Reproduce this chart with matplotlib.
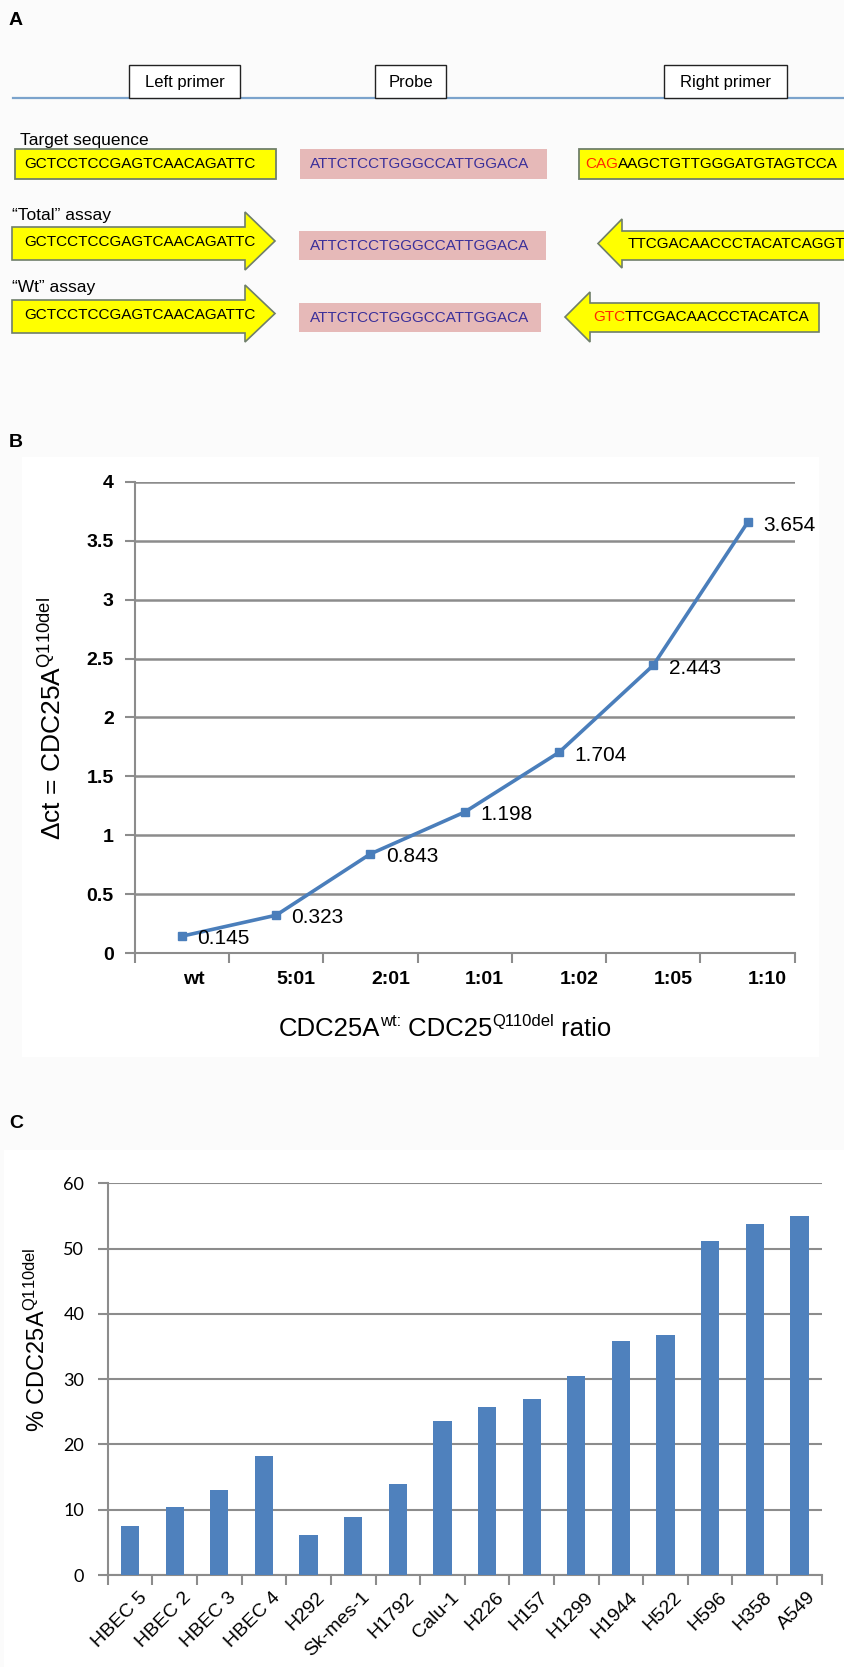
import matplotlib
matplotlib.use("Agg")
import matplotlib.pyplot as plt
import matplotlib.patches as mpatches
from matplotlib.transforms import ScaledTranslation

# ---------------- data ----------------
ratio_labels = ["wt", "5:01", "2:01", "1:01", "1:02", "1:05", "1:10"]
delta_ct = [0.145, 0.323, 0.843, 1.198, 1.704, 2.443, 3.654]
b_yticks = [0, 0.5, 1, 1.5, 2, 2.5, 3, 3.5, 4]
b_yticklabels = ["0", "0.5", "1", "1.5", "2", "2.5", "3", "3.5", "4"]

cell_lines = ["HBEC 5", "HBEC 2", "HBEC 3", "HBEC 4", "H292", "Sk-mes-1", "H1792",
              "Calu-1", "H226", "H157", "H1299", "H1944", "H522", "H596", "H358", "A549"]
pct_mut = [7.5, 10.4, 13.0, 18.3, 6.1, 8.9, 13.9, 23.6, 25.8, 27.0, 30.5, 35.8,
           36.8, 51.2, 53.8, 55.0]
c_yticks = [0, 10, 20, 30, 40, 50, 60]

target_left = "GCTCCTCCGAGTCAACAGATTC"
probe_seq = "ATTCTCCTGGGCCATTGGACA"
target_right_mut = "CAG"
target_right_rest = "AAGCTGTTGGGATGTAGTCCA"
total_right = "TTCGACAACCCTACATCAGGT"
wt_right_mut = "GTC"
wt_right_rest = "TTCGACAACCCTACATCA"

# ---------------- style ----------------
plt.rcParams['font.family'] = ['Liberation Sans', 'DejaVu Sans']
plt.rcParams['mathtext.fontset'] = 'custom'
plt.rcParams['mathtext.rm'] = 'Liberation Sans'
plt.rcParams['mathtext.it'] = 'Liberation Sans'
plt.rcParams['mathtext.bf'] = 'Liberation Sans:bold'
plt.rcParams['mathtext.default'] = 'regular'

W, H = 845, 1667
DPI = 100
fig = plt.figure(figsize=(W / DPI, H / DPI), dpi=DPI, facecolor='#fbfbfb')

# overlay axes in pixel coordinates (y downward)
ov = fig.add_axes([0, 0, 1, 1], zorder=0)
ov.set_xlim(0, W)
ov.set_ylim(H, 0)
ov.axis('off')

YEL = '#ffff00'
YEL_EDGE = '#6f7f6a'
PINK = '#e6b9b8'
SEQ_BLUE = '#3a2f9a'

# white chart backgrounds
ov.add_patch(mpatches.Rectangle((22, 457), 797, 600, facecolor='white', edgecolor='none', zorder=0))
ov.add_patch(mpatches.Rectangle((4, 1150), 841, 517, facecolor='white', edgecolor='none', zorder=0))

# panel letters
for letter, (lx, ly) in zip("ABC", [(9, 20), (9, 442), (9, 1123)]):
    ov.text(lx, ly, letter, fontsize=14, fontweight='bold', ha='left', va='center')

# ---- panel A ----
ov.plot([13, 845], [98, 98], color='#7ba3cc', lw=1.6, zorder=1)
for (x0, x1, lab) in [(129, 240, "Left primer"), (375.5, 446, "Probe"), (664, 787, "Right primer")]:
    ov.add_patch(mpatches.Rectangle((x0, 65), x1 - x0, 33, facecolor='white',
                                    edgecolor='#222222', lw=1.0, zorder=2))
    ov.text((x0 + x1) / 2, 82, lab, fontsize=12, ha='center', va='center', zorder=3)

seq_fs = 11
# row labels
ov.text(20, 140, "Target sequence", fontsize=12.5, ha='left', va='center')
ov.text(12, 215, "\u201cTotal\u201d assay", fontsize=12.5, ha='left', va='center')
ov.text(12, 287, "\u201cWt\u201d assay", fontsize=12.5, ha='left', va='center')

# target sequence row
ov.add_patch(mpatches.Rectangle((15, 149), 261, 30, facecolor=YEL, edgecolor=YEL_EDGE, lw=1.3, zorder=2))
ov.text(24, 164, target_left, fontsize=seq_fs, ha='left', va='center', zorder=3)
ov.add_patch(mpatches.Rectangle((300, 149), 247, 30, facecolor=PINK, edgecolor='none', zorder=2))
ov.text(310, 164, probe_seq, fontsize=seq_fs, color=SEQ_BLUE, ha='left', va='center', zorder=3)
ov.add_patch(mpatches.Rectangle((579, 149), 280, 30, facecolor=YEL, edgecolor=YEL_EDGE, lw=1.3, zorder=2))
t1 = ov.text(585, 164, target_right_mut, fontsize=seq_fs, color='#ff2a00', ha='left', va='center', zorder=3)
ov.annotate(target_right_rest, xy=(1, 0), xycoords=t1, ha='left', va='bottom',
            fontsize=seq_fs, zorder=3)


def right_arrow(x0, xh, tip, yb1, yb2, yh1, yh2):
    yc = (yh1 + yh2) / 2
    pts = [(x0, yb1), (xh, yb1), (xh, yh1), (tip, yc), (xh, yh2), (xh, yb2), (x0, yb2)]
    ov.add_patch(mpatches.Polygon(pts, closed=True, facecolor=YEL, edgecolor=YEL_EDGE, lw=1.2, zorder=2))


def left_arrow(x1, xh, tip, yb1, yb2, yh1, yh2):
    yc = (yh1 + yh2) / 2
    pts = [(x1, yb1), (xh, yb1), (xh, yh1), (tip, yc), (xh, yh2), (xh, yb2), (x1, yb2)]
    ov.add_patch(mpatches.Polygon(pts, closed=True, facecolor=YEL, edgecolor=YEL_EDGE, lw=1.2, zorder=2))


# Total assay row
right_arrow(12, 245, 275, 227, 260, 212, 270)
ov.text(24, 242, target_left, fontsize=seq_fs, ha='left', va='center', zorder=3)
ov.add_patch(mpatches.Rectangle((299, 231), 247, 28.5, facecolor=PINK, edgecolor='none', zorder=2))
ov.text(310, 246, probe_seq, fontsize=seq_fs, color=SEQ_BLUE, ha='left', va='center', zorder=3)
left_arrow(860, 622, 598, 231, 260, 219, 268)
ov.text(628, 244, total_right, fontsize=seq_fs, ha='left', va='center', zorder=3)

# Wt assay row
right_arrow(12, 245, 275, 300, 333, 285, 342)
ov.text(24, 315, target_left, fontsize=seq_fs, ha='left', va='center', zorder=3)
ov.add_patch(mpatches.Rectangle((299, 303), 242.5, 29, facecolor=PINK, edgecolor='none', zorder=2))
ov.text(310, 318, probe_seq, fontsize=seq_fs, color=SEQ_BLUE, ha='left', va='center', zorder=3)
left_arrow(819, 590, 565, 303, 332, 292, 342)
t2 = ov.text(593, 317, wt_right_mut, fontsize=seq_fs, color='#ff2a00', ha='left', va='center', zorder=3)
ov.annotate(wt_right_rest, xy=(1, 0), xycoords=t2, ha='left', va='bottom',
            fontsize=seq_fs, zorder=3)


def frac_rect(left, top, right, bottom):
    return [left / W, 1 - bottom / H, (right - left) / W, (bottom - top) / H]


GRID = '#8c8c8c'

# ---- panel B ----
axb = fig.add_axes(frac_rect(134.7, 481.7, 794.7, 953.3), zorder=2)
axb.set_facecolor('none')
xb = [i + 0.5 for i in range(len(ratio_labels))]
axb.set_xlim(0, len(ratio_labels))
axb.set_ylim(0, 4)
axb.set_yticks(b_yticks)
axb.set_yticklabels(b_yticklabels, fontsize=14, fontweight='bold')
axb.yaxis.grid(True, color=GRID, lw=1.8)
axb.set_axisbelow(True)
for s in ['top', 'right']:
    axb.spines[s].set_visible(False)
for s in ['left', 'bottom']:
    axb.spines[s].set_color(GRID)
    axb.spines[s].set_linewidth(1.5)
axb.tick_params(axis='y', length=7, width=1.5, color=GRID, pad=8)
axb.set_xticks(xb)
axb.set_xticklabels(ratio_labels, fontsize=14, fontweight='bold')
axb.set_xticks(range(len(ratio_labels) + 1), minor=True)
axb.tick_params(axis='x', which='major', length=0, pad=13)
axb.tick_params(axis='x', which='minor', length=7, width=1.5, color=GRID)
offs = [12] + [20] * (len(ratio_labels) - 1)
for lab, o in zip(axb.get_xticklabels(), offs):
    lab.set_transform(lab.get_transform() + ScaledTranslation(o / DPI, 0, fig.dpi_scale_trans))
axb.plot(xb, delta_ct, color='#4a7ebb', lw=2.6, marker='s', markersize=6, zorder=3, clip_on=False)
for x, v in zip(xb, delta_ct):
    axb.annotate(f"{v:g}", (x, v), xytext=(11, -2), textcoords='offset points',
                 fontsize=15, ha='left', va='center')

# x-axis title with superscripts, built from pieces (no mathtext spacing)
fs_main = 18.5
fs_sup = 12
rise = 10
title_parts = [("CDC25A", fs_main, 0), ("wt:", fs_sup, rise), (" CDC25", fs_main, 0),
               ("Q110del", fs_sup, rise), (" ratio", fs_main, 0)]
base_y = 1036
pieces = [ov.text(0, base_y - r, s, fontsize=f, ha='left', va='baseline', zorder=3)
          for s, f, r in title_parts]
renderer = fig.canvas.get_renderer()
widths = [p.get_window_extent(renderer).width for p in pieces]
xcur = 445 - sum(widths) / 2
for p, w in zip(pieces, widths):
    p.set_x(xcur)
    xcur += w

fig.text(52 / W, 1 - 718 / H, "\u0394ct = CDC25A$^{Q110del}$", fontsize=19, rotation=90,
         ha='center', va='center')

# ---- panel C ----
axc = fig.add_axes(frac_rect(107.8, 1183.3, 821.7, 1575), zorder=2)
axc.set_facecolor('none')
xc = list(range(len(cell_lines)))
axc.bar(xc, pct_mut, width=0.41, color='#4f81bd', zorder=3)
axc.set_xlim(-0.5, len(cell_lines) - 0.5)
axc.set_ylim(0, 60)
axc.set_yticks(c_yticks)
axc.set_yticklabels([str(v) for v in c_yticks], fontsize=13, family=['Lato', 'DejaVu Sans'])
axc.yaxis.grid(True, color=GRID, lw=1.5)
axc.set_axisbelow(True)
for s in ['top', 'right']:
    axc.spines[s].set_visible(False)
for s in ['left', 'bottom']:
    axc.spines[s].set_color(GRID)
    axc.spines[s].set_linewidth(1.5)
axc.tick_params(axis='y', length=7, width=1.5, color=GRID, pad=10)
axc.set_xticks(xc)
axc.set_xticklabels(cell_lines, fontsize=14, rotation=45, ha='right', va='top',
                    rotation_mode='anchor')
axc.set_xticks([i - 0.5 for i in range(len(cell_lines) + 1)], minor=True)
axc.tick_params(axis='x', which='major', length=0, pad=10)
axc.tick_params(axis='x', which='minor', length=7, width=1.5, color=GRID)
for lab in axc.get_xticklabels():
    lab.set_transform(lab.get_transform() + ScaledTranslation(8 / DPI, 0, fig.dpi_scale_trans))
fig.text(37 / W, 1 - 1340 / H, "% CDC25A$^{Q110del}$", fontsize=17, rotation=90,
         ha='center', va='center')

fig.savefig("out.png", dpi=DPI, facecolor=fig.get_facecolor())
